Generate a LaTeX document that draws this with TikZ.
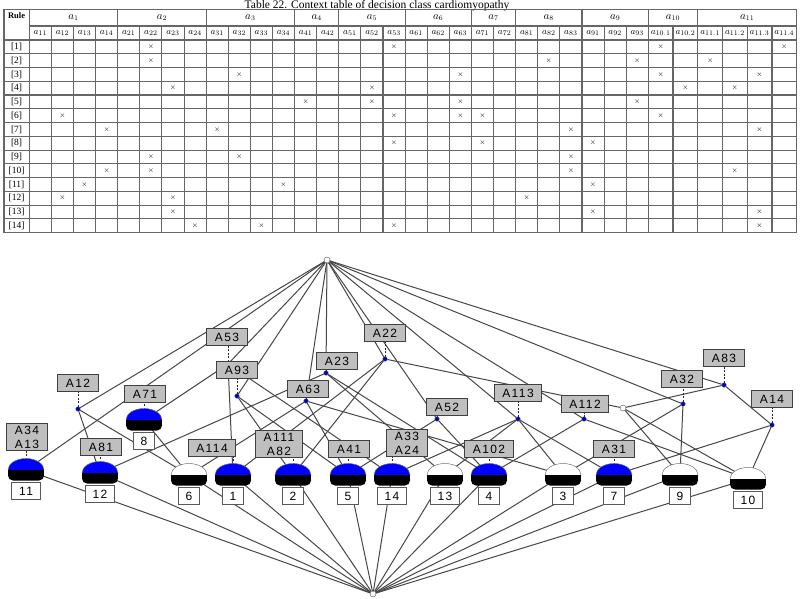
\documentclass[tikz,border=0pt]{standalone}
\usepackage{fontspec}
\setmainfont{Liberation Serif}
\newfontfamily\lblfont[LetterSpace=12]{Liberation Sans}
\usepackage{tikz}
\usetikzlibrary{positioning,backgrounds}

% left edge of table column i (0 = end of the Rule column)
\pgfmathdeclarefunction{colx}{1}{\pgfmathparse{ifthenelse(#1<=28, 29.3+#1*22.107, 648.3+(#1-28)*24.733)}}

% object concept: blue/white dome over black band, number box below
\newcommand{\objcon}[3]{%
  \fill[#2] ([xshift=-18pt]#1) arc[start angle=180, end angle=0, x radius=18pt, y radius=11.5pt] -- cycle;
  \draw[black!55, line width=0.5pt] ([xshift=-18pt]#1) arc[start angle=180, end angle=0, x radius=18pt, y radius=11.5pt];
  \fill[black, rounded corners=5pt] ([xshift=-18pt]#1) rectangle ([xshift=18pt, yshift=-10.5pt]#1);
  \fill[black] ([xshift=-18pt]#1) rectangle ([xshift=18pt, yshift=-5pt]#1);
  \node[numbox] (#1n) at ([yshift=-21pt]#1) {#3};
}

\begin{document}
\begin{tikzpicture}[x=1pt, y=-1pt,
    % table styles
    tabline/.style={draw=black!60, line width=1.1pt},
    rulecell/.style={font=\fontsize{9.5}{10}\selectfont, inner sep=0pt},
    xmark/.style={font=\fontsize{7}{7}\selectfont, inner sep=0pt},
    % lattice styles
    link/.style={draw=black!72, line width=1pt},
    stub/.style={draw=black!85, line width=1pt, dash pattern=on 2pt off 1.5pt},
    attr/.style={rectangle, draw=black!75, fill=black!25, line width=1pt, font={\lblfont\fontsize{12}{14}\selectfont}, inner xsep=8pt, inner ysep=2pt, minimum height=17pt, align=center},
    numbox/.style={rectangle, draw=black!65, fill=white, line width=1pt, font={\lblfont\fontsize{12}{13}\selectfont}, inner xsep=7.5pt, inner ysep=2pt, minimum height=17.5pt},
    cnode/.style={circle, draw=black!70, fill=blue!80!black, inner sep=0pt, minimum size=4.5pt},
    enode/.style={circle, draw=black!70, fill=white, inner sep=0pt, minimum size=6pt}]

    \useasboundingbox (0,0) rectangle (801,599);

    % Title of the context table
    \node[anchor=base, font=\fontsize{11.5}{12}\selectfont, inner sep=0pt] (title) at (377,8.6) {Table 22. Context table of decision class cardiomyopathy};

    % Table grid
    \draw[tabline] (4,9.5) rectangle (796.7,232.6);
    \draw[tabline] (29.3,26) -- (796.7,26);
    \foreach \r in {0,...,13} \draw[tabline] (4,{40+\r*13.76}) -- (796.7,{40+\r*13.76});
    \draw[tabline] (29.3,9.5) -- (29.3,232.6);
    \foreach \i in {1,...,33} \draw[tabline] ({colx(\i)},26) -- ({colx(\i)},232.6);
    \foreach \i in {4,8,12,14,17,20,22,25,28,30} \draw[tabline] ({colx(\i)},9.5) -- ({colx(\i)},26);

    % Header cells
    \node[font=\bfseries\fontsize{8.5}{8.5}\selectfont] (rulehead) at (16.6,16) {Rule};
    \foreach \a/\b/\g in {0/4/1,4/8/2,8/12/3,12/14/4,14/17/5,17/20/6,20/22/7,22/25/8,25/28/9,28/30/10,30/34/11}
      \node[font=\fontsize{10.5}{10.5}\selectfont] at ({(colx(\a)+colx(\b))/2},17.5) {$a_{\g}$};
    \foreach \i/\s in {1/11,2/12,3/13,4/14,5/21,6/22,7/23,8/24,9/31,10/32,11/33,12/34,13/41,14/42,15/51,16/52,17/53,18/61,19/62,20/63,21/71,22/72,23/81,24/82,25/83,26/91,27/92,28/93,29/{10.1},30/{10.2},31/{11.1},32/{11.2},33/{11.3},34/{11.4}}
      \node[font=\fontsize{9.5}{9.5}\selectfont] at ({(colx(\i-1)+colx(\i))/2},33) {$a_{\s}$};

    % Rules and their crosses
    \foreach \r/\cs in {1/{6,17,29,34},2/{6,24,28,31},3/{10,20,29,33},4/{7,16,30,32},5/{13,16,20,28},6/{2,17,20,21,29},7/{4,9,25,33},8/{17,21,26},9/{6,10,25},10/{4,6,25,32},11/{3,12,26},12/{2,7,23},13/{7,26,33},14/{8,11,17,33}} {
      \node[rulecell] at (16.6,{40+(\r-0.5)*13.76}) {[\r]};
      \foreach \c in \cs
        \node[xmark] at ({(colx(\c-1)+colx(\c))/2},{40+(\r-0.5)*13.76}) {$\times$};
    }

    % Lattice: top, bottom and attribute concepts
    \node[enode] (top) at (327,260) {};
    \node[enode] (bot) at (373,594) {};
    \node[cnode] (c12) at (78,409) {};
    \node[cnode] (c53) at (228,364) {};
    \node[cnode] (c93) at (237,396) {};
    \node[cnode] (c63) at (306,401) {};
    \node[cnode] (c23) at (326,373) {};
    \node[cnode] (c22) at (385,359) {};
    \node[cnode] (c52) at (437,419) {};
    \node[cnode] (c113) at (518,419) {};
    \node[cnode] (c112) at (584,419) {};
    \node[enode] (cw) at (623,408) {};
    \node[cnode] (c32) at (683,404) {};
    \node[cnode] (c83) at (724,385) {};
    \node[cnode] (c14) at (772,425) {};

    % Object concepts
    \coordinate (o11) at (26,470);
    \coordinate (o12) at (100,473);
    \coordinate (o8) at (144,420);
    \coordinate (o6) at (189,475);
    \coordinate (o1) at (233,475);
    \coordinate (o2) at (293,475);
    \coordinate (o5) at (348,475);
    \coordinate (o14) at (392,475);
    \coordinate (o13) at (445,475);
    \coordinate (o4) at (489,475);
    \coordinate (o3) at (563,475);
    \coordinate (o7) at (614,475);
    \coordinate (o9) at (680,475);
    \coordinate (o10) at (748,479);
    \objcon{o11}{blue}{11}
    \objcon{o12}{blue}{12}
    \objcon{o8}{blue}{8}
    \objcon{o6}{white}{6}
    \objcon{o1}{blue}{1}
    \objcon{o2}{blue}{2}
    \objcon{o5}{blue}{5}
    \objcon{o14}{blue}{14}
    \objcon{o13}{white}{13}
    \objcon{o4}{blue}{4}
    \objcon{o3}{white}{3}
    \objcon{o7}{blue}{7}
    \objcon{o9}{white}{9}
    \objcon{o10}{white}{10}

    % Attribute labels
    \node[attr] (l12) at (78,383) {A12};
    \node[attr] (l53) at (227,337) {A53};
    \node[attr] (l93) at (237,370) {A93};
    \node[attr] (l23) at (337,361) {A23};
    \node[attr] (l63) at (308,389) {A63};
    \node[attr] (l22) at (385,333) {A22};
    \node[attr] (l52) at (447,407) {A52};
    \node[attr] (l113) at (518,393) {A113};
    \node[attr] (l112) at (585,404) {A112};
    \node[attr] (l32) at (682,379) {A32};
    \node[attr] (l83) at (724,358) {A83};
    \node[attr] (l14) at (772,399) {A14};
    \node[attr] (l71) at (145,394) {A71};
    \node[attr] (l81) at (101,447) {A81};
    \node[attr] (l3413) at (27,437) {A34\\A13};
    \node[attr] (l114) at (212,448) {A114};
    \node[attr] (l11182) at (279,444) {A111\\A82};
    \node[attr] (l41) at (349,449) {A41};
    \node[attr] (l3324) at (407,443) {A33\\A24};
    \node[attr] (l102) at (489,449) {A102};
    \node[attr] (l31) at (614,449) {A31};

    \begin{pgfonlayer}{background}
    \fill[white] (0,0) rectangle (801,599);
    % Covering lines of the lattice
    \foreach \a/\b in {top/c12,top/c53,top/o11,top/c93,top/c63,top/c23,top/c22,top/c52,top/c113,top/c112,top/c32,top/c83,
        c12/o12,c12/o6,c53/o8,c53/o1,c53/o14,o8/o6,c93/o2,c93/o5,c63/o3,c63/o5,c63/o6,
        c23/o4,c23/o12,c23/o13,c22/o1,c22/o2,c22/cw,c52/o4,c52/o5,
        c113/o3,c113/o7,c113/o13,c113/o14,c112/o4,c112/o10,c32/o3,c32/o9,
        c83/c14,c83/cw,c14/o7,c14/o10,cw/o9,cw/o10,
        o11/bot,o12/bot,o6/bot,o1/bot,o2/bot,o5/bot,o14/bot,o13/bot,o4/bot,o3/bot,o7/bot,o9/bot,o10/bot}
      \draw[link] (\a) -- (\b);
    % Label stubs
    \foreach \c/\l in {c12/l12,c53/l53,c93/l93,c23/l23,c63/l63,c22/l22,c52/l52,c113/l113,c112/l112,c32/l32,c83/l83,c14/l14}
      \draw[stub] (\c) -- (\c |- \l.south);
    \foreach \o/\l in {o8/l71,o12/l81,o11/l3413,o1/l114,o2/l11182,o5/l41,o14/l3324,o4/l102,o7/l31}
      \draw[stub] (\o) -- (\o |- \l.south);
    \end{pgfonlayer}

\end{tikzpicture}
\end{document}
